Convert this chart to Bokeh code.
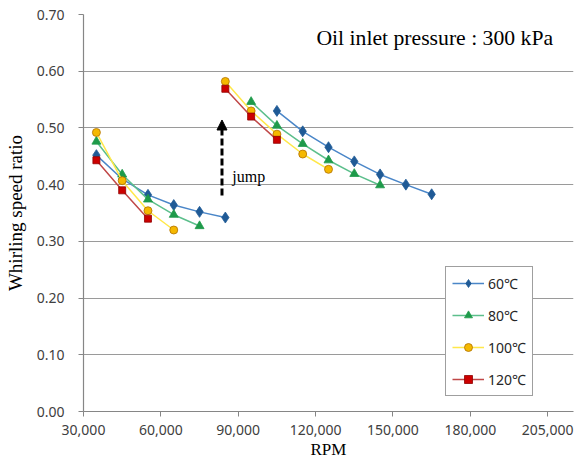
from bokeh.plotting import figure
from bokeh.models import (Range1d, FixedTicker, NumeralTickFormatter, Legend, LegendItem,
                          Label, Arrow, NormalHead)
from bokeh.embed import file_html
from bokeh.resources import INLINE

# ---- data ----
rpm_low = [35000, 45000, 55000, 65000, 75000, 85000]
ratio_60_low = [0.452, 0.410, 0.382, 0.364, 0.352, 0.342]
ratio_60_high_rpm = [105000, 115000, 125000, 135000, 145000, 155000, 165000]
ratio_60_high = [0.530, 0.494, 0.466, 0.441, 0.418, 0.400, 0.383]

ratio_80_low_rpm = [35000, 45000, 55000, 65000, 75000]
ratio_80_low = [0.476, 0.418, 0.374, 0.347, 0.327]
ratio_80_high_rpm = [95000, 105000, 115000, 125000, 135000, 145000]
ratio_80_high = [0.546, 0.504, 0.472, 0.443, 0.419, 0.399]

ratio_100_low_rpm = [35000, 45000, 55000, 65000]
ratio_100_low = [0.492, 0.407, 0.354, 0.320]
ratio_100_high_rpm = [85000, 95000, 105000, 115000, 125000]
ratio_100_high = [0.582, 0.530, 0.489, 0.454, 0.427]

ratio_120_low_rpm = [35000, 45000, 55000]
ratio_120_low = [0.443, 0.390, 0.340]
ratio_120_high_rpm = [85000, 95000, 105000]
ratio_120_high = [0.569, 0.520, 0.479]

series_names = ["60℃", "80℃", "100℃", "120℃"]
x_ticks = [30000, 60000, 90000, 120000, 150000, 180000, 210000]
x_tick_labels = ["30,000", "60,000", "90,000", "120,000", "150,000", "180,000", "205,000"]
y_ticks = [0.0, 0.1, 0.2, 0.3, 0.4, 0.5, 0.6, 0.7]

title_text = "Oil inlet pressure : 300 kPa"
jump_text = "jump"
jump_rpm = 83700
jump_from, jump_to = 0.381, 0.514

# ---- figure ----
p = figure(width=584, height=461, output_backend="svg", toolbar_location=None,
           x_range=Range1d(30000, 220000), y_range=Range1d(0, 0.7),
           min_border_left=83, min_border_right=11, min_border_top=14, min_border_bottom=50)
p.outline_line_color = None
p.background_fill_color = "white"
p.border_fill_color = "white"

p.xgrid.grid_line_color = None
p.ygrid.grid_line_color = "#9a9a9a"
p.ygrid.grid_line_width = 1.2
p.ygrid.ticker = FixedTicker(ticks=y_ticks)

tick_font = "Noto Sans"
p.xaxis.ticker = FixedTicker(ticks=x_ticks)
p.xaxis.major_label_overrides = {t: l for t, l in zip(x_ticks, x_tick_labels)}
p.yaxis.ticker = FixedTicker(ticks=y_ticks)
p.yaxis.formatter = NumeralTickFormatter(format="0.00")
for ax in (p.xaxis, p.yaxis):
    ax.axis_line_color = "#868686"
    ax.axis_line_width = 1.2
    ax.major_tick_line_color = "#868686"
    ax.major_tick_in = 0
    ax.major_tick_out = 5
    ax.minor_tick_line_color = None
    ax.major_label_text_font = tick_font
    ax.major_label_text_font_size = "14px"
    ax.major_label_text_color = "#404040"
    ax.axis_label_text_font = "Liberation Serif"
    ax.axis_label_text_font_style = "normal"
    ax.axis_label_text_color = "#000000"
p.xaxis.major_label_standoff = 8
p.yaxis.major_label_standoff = 14
p.xaxis.axis_label = "RPM"
p.xaxis.axis_label_text_font_size = "17px"
p.xaxis.axis_label_standoff = 2
p.yaxis.axis_label = "Whirling speed ratio"
p.yaxis.axis_label_text_font_size = "19px"
p.yaxis.axis_label_standoff = 8

styles = [
    dict(line="#4a86c8", marker="diamond", fill="#1f5a96", edge="#1f5a96", size=11),
    dict(line="#5cbf8c", marker="triangle", fill="#1e9a4a", edge="#1e9a4a", size=9),
    dict(line="#ffe84a", marker="circle", fill="#f5b800", edge="#b07000", size=8),
    dict(line="#c04848", marker="square", fill="#cc0000", edge="#900000", size=7),
]
data = [
    (rpm_low, ratio_60_low, ratio_60_high_rpm, ratio_60_high),
    (ratio_80_low_rpm, ratio_80_low, ratio_80_high_rpm, ratio_80_high),
    (ratio_100_low_rpm, ratio_100_low, ratio_100_high_rpm, ratio_100_high),
    (ratio_120_low_rpm, ratio_120_low, ratio_120_high_rpm, ratio_120_high),
]

items = []
for name, st, (xl, yl, xh, yh) in zip(series_names, styles, data):
    r1 = p.line(xl, yl, line_color=st["line"], line_width=1.5)
    r2 = p.line(xh, yh, line_color=st["line"], line_width=1.5)
    s1 = p.scatter(xl, yl, marker=st["marker"], size=st["size"], fill_color=st["fill"],
                   line_color=st["edge"], line_width=0.8)
    s2 = p.scatter(xh, yh, marker=st["marker"], size=st["size"], fill_color=st["fill"],
                   line_color=st["edge"], line_width=0.8)
    items.append(LegendItem(label=name, renderers=[r1, s1]))

legend = Legend(items=items, location=(362, 15), orientation="vertical",
                border_line_color="#404040", border_line_width=1,
                background_fill_color="white", background_fill_alpha=1,
                label_text_font=tick_font, label_text_font_size="14px",
                label_text_color="#262626",
                glyph_width=32, glyph_height=20, label_height=20,
                spacing=12, padding=6, label_standoff=4, margin=0)
p.add_layout(legend, "center")

# annotations
p.add_layout(Arrow(end=NormalHead(size=10, fill_color="black", line_color="black"),
                   x_start=jump_rpm, y_start=jump_from, x_end=jump_rpm, y_end=jump_to,
                   line_color="black", line_width=3, line_dash="7 3"))
p.add_layout(Label(x=87700, y=0.414, text=jump_text, text_font="Liberation Serif",
                   text_font_size="16px", text_color="black", text_baseline="alphabetic"))
p.add_layout(Label(x=120300, y=0.659, text=title_text, text_font="Liberation Serif",
                   text_font_size="21.7px", text_color="black", text_baseline="alphabetic"))

open("out.html", "w").write(file_html(p, INLINE))
